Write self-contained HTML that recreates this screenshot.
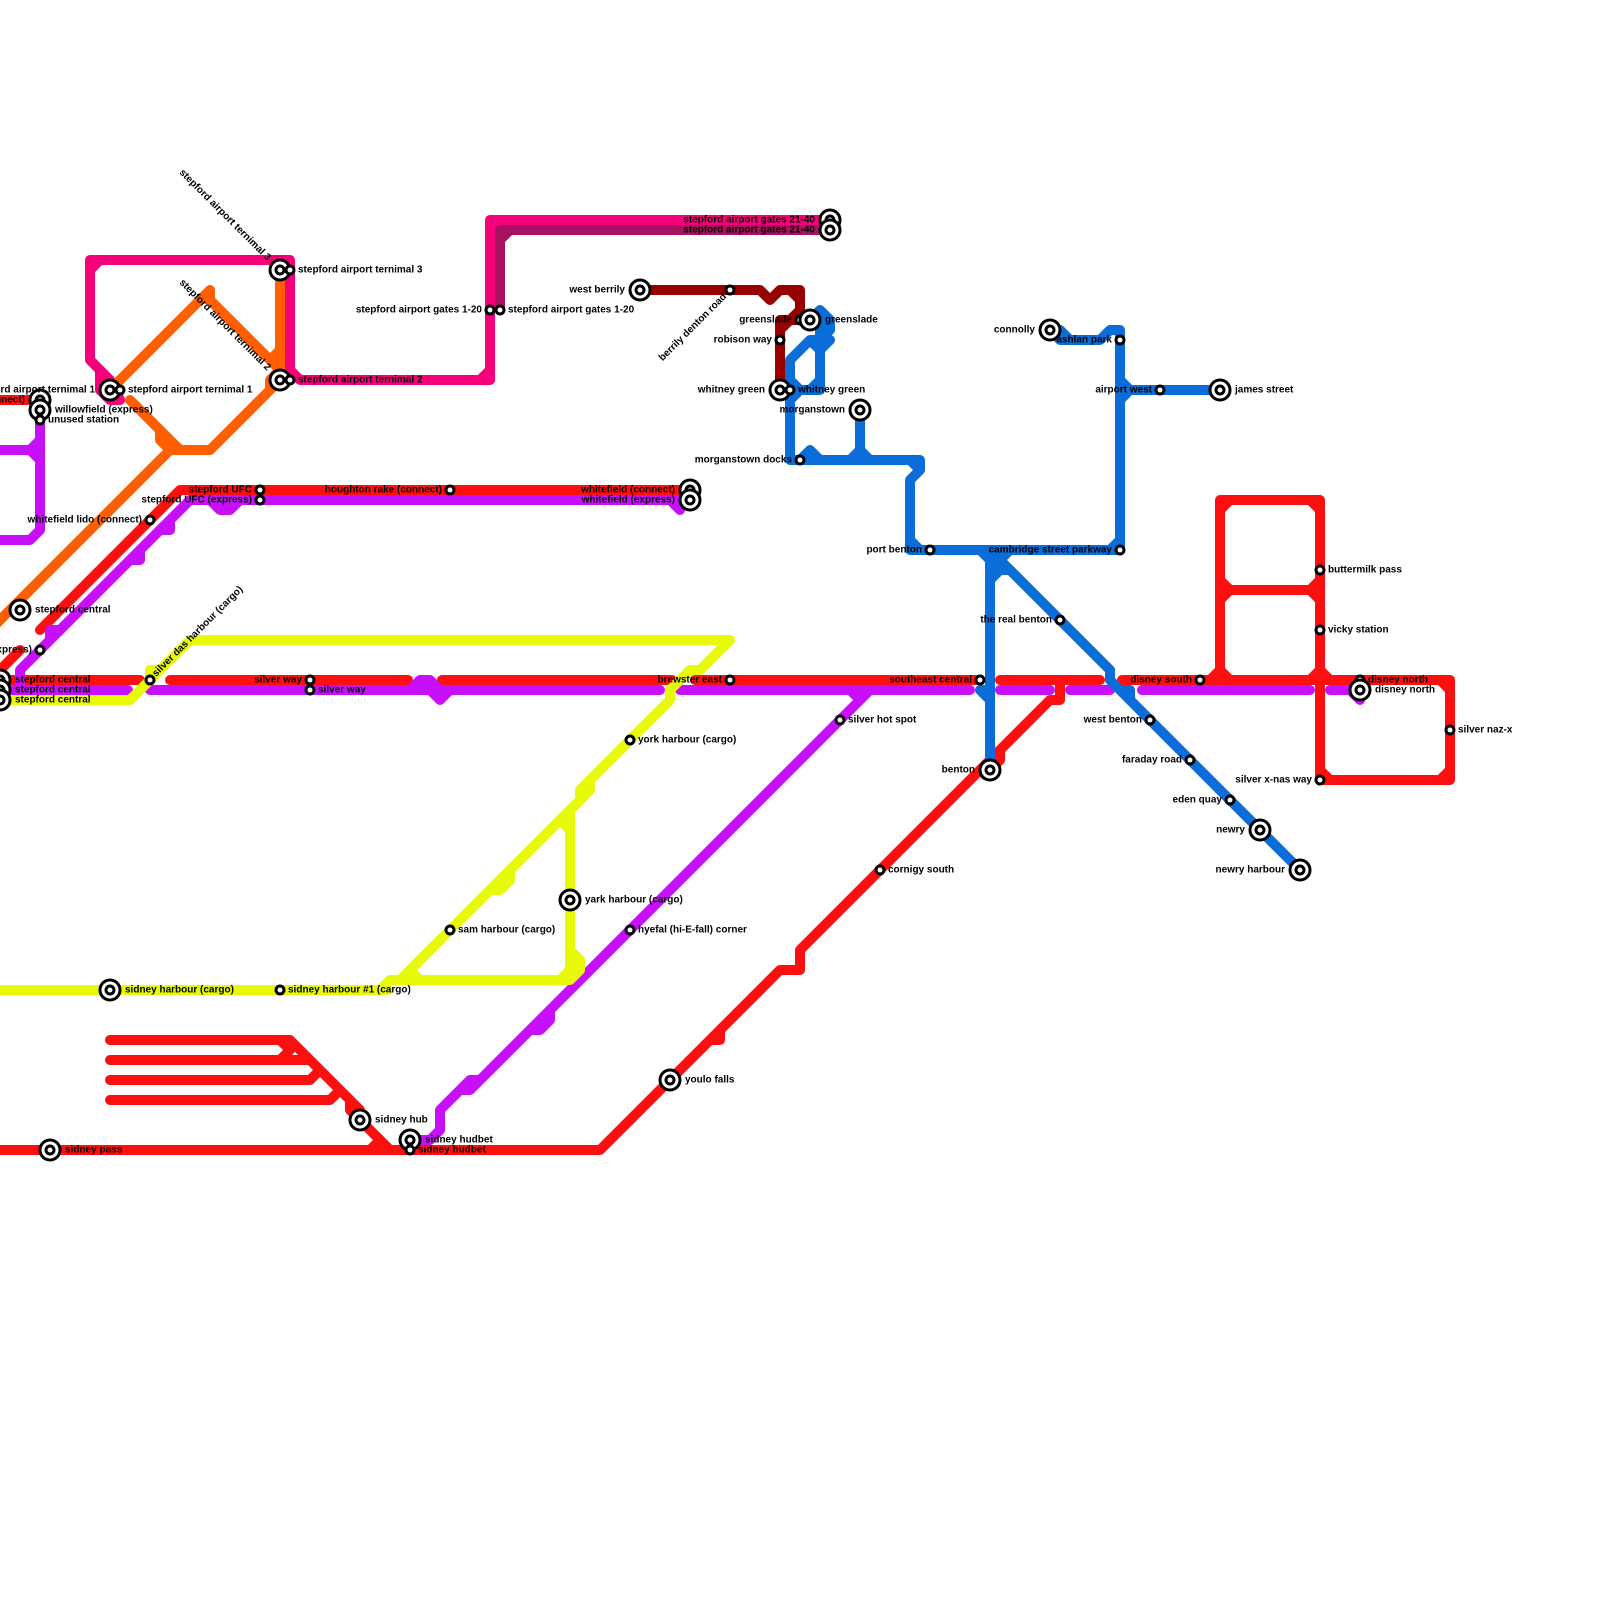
<!DOCTYPE html>
<html><head><meta charset="utf-8"><style>
html,body{margin:0;padding:0;background:#fff}
svg{display:block}
path{fill:none;stroke-width:10;stroke-linecap:round;stroke-linejoin:round}
text{font-family:"Liberation Sans",sans-serif;font-size:10px;font-weight:bold;fill:#000}
.e{text-anchor:end}
.s{fill:#fff;stroke:#000;stroke-width:3}
</style></head><body>
<svg width="1600" height="1600" viewBox="0 0 1600 1600" xmlns="http://www.w3.org/2000/svg">
<rect width="1600" height="1600" fill="#fff"/>
<!-- red -->
<path stroke="#fc0f0f" d="M-5 400L40 400 M40 630L180 490L690 490 M-10 680L20 650 M0 680L140 680 M170 680L408 680 M442 680L672 680 M695 680L980 680 M1000 680L1100 680 M1060 680L1060 700L1050 700L800 950L800 970L780 970L600 1150L-5 1150 M710 1040L720 1040L720 1030 M1000 750L1000 760L985 775 M1122 680L1450 680L1450 780L1320 780L1320 500L1220 500L1220 680 M1210 680L1220 670 M1220 590L1320 590 M1220 510L1230 500 M1310 500L1320 510 M1220 580L1230 590L1220 600 M1320 580L1310 590L1320 600 M1220 670L1230 680 M1310 680L1320 670L1330 680 M1320 770L1330 780 M1440 780L1450 770 M1440 680L1450 690 M110 1040L290 1040L360 1110L360 1120L390 1150 M350 1100L350 1110L360 1120 M110 1060L310 1060 M280 1040L290 1050 M280 1060L290 1050 M110 1080L310 1080L320 1070 M110 1100L330 1100L340 1090 M370 1150L380 1140"/>
<!-- purple -->
<path stroke="#c80ffa" d="M40 420L40 530L30 540L-5 540 M-5 450L30 450L40 440 M30 450L40 460 M20 685L20 670L190 500L690 500 M670 500L680 510 M210 500L220 510L230 510L240 500 M160 530L170 530L170 520 M130 560L140 560L140 550 M50 640L50 630L60 630 M-5 690L128 690 M150 690L660 690 M410 690L420 680L430 680L440 690 M430 690L440 700L450 690 M680 690L970 690 M1000 690L1050 690 M1070 690L1110 690 M1142 690L1310 690 M1330 690L1360 690 M1350 690L1360 700 M870 690L480 1080L470 1080L440 1110L440 1130L430 1140L410 1140 M850 690L860 700 M550 1010L550 1020L540 1030L530 1030 M480 1080L470 1090L460 1090"/>
<!-- pink -->
<path stroke="#f5007a" d="M120 400L110 400L100 390L100 370 M90 360L110 380L120 400 M110 380L110 400 M90 360L90 260L290 260L290 370L300 380L490 380L490 220L830 220 M90 270L100 260 M480 380L490 370 M490 230L500 220"/>
<path stroke="#a81060" d="M830 230L500 230L500 310 M500 240L510 230"/>
<!-- orange -->
<path stroke="#ff5f00" d="M-10 630L170 450L210 450L280 380L280 270 M110 390L210 290L210 300L280 370 M130 400L180 450L170 450 M160 430L160 440L170 450 M270 390L270 380L280 370 M280 350L270 360"/>
<!-- dark red -->
<path stroke="#980000" d="M640 290L760 290L770 300L780 290L800 290L800 310L790 320L780 320L780 390 M800 320L780 320 M780 330L790 320 M790 290L800 300"/>
<!-- yellow -->
<path stroke="#e8fa08" d="M730 640L190 640L130 700L-5 700 M160 670L150 670L150 680 M730 640L700 670L690 670L670 690L670 700L590 780L590 790L410 970L400 980 M590 780L580 790L580 800 M510 870L510 880L500 890L490 890 M-5 990L388 990 M380 990L390 980L570 980L580 970L580 960L570 950L570 810 M560 820L570 830 M410 970L420 980 M560 980L570 970 M570 950L570 980 M570 960L580 960 M570 970L580 970"/>
<!-- blue -->
<path stroke="#0b6dd8" d="M790 360L810 340L820 340L830 330L830 320L820 310 M820 310L820 340 M820 330L830 330 M790 360L790 460L920 460L920 470L910 480L910 550L1120 550 M830 340L820 350L820 390L800 390L790 400 M810 340L820 350 M790 380L800 390 M810 390L820 380 M860 410L860 460 M800 460L810 450L820 460 M850 460L860 450L870 460 M910 460L920 470 M910 540L920 550 M1120 550L1120 330L1110 330L1100 340L1070 340L1060 330L1050 330 M1050 330L1060 340L1070 340 M1110 550L1120 540 M1120 380L1130 390L1120 400 M1120 390L1220 390 M990 550L990 770 M980 550L990 560 M1000 560L1010 550 M990 560L1000 560 M990 570L1010 570 M990 580L1000 570 M1000 560L1110 670L1110 680L1300 870 M1110 680L1130 700 M1120 690L1130 690L1130 700 M980 690L990 690 M980 690L990 700 M820 310L810 320"/>
<!-- big nodes -->
<g class="s">
<circle cx="280" cy="270" r="10"/><circle cx="280" cy="270" r="4"/>
<circle cx="280" cy="380" r="10"/><circle cx="280" cy="380" r="4"/>
<circle cx="110" cy="390" r="10"/><circle cx="110" cy="390" r="4"/>
<circle cx="40" cy="400" r="10"/><circle cx="40" cy="400" r="4"/>
<circle cx="40" cy="410" r="10"/><circle cx="40" cy="410" r="4"/>
<circle cx="830" cy="220" r="10"/><circle cx="830" cy="220" r="4"/>
<circle cx="830" cy="230" r="10"/><circle cx="830" cy="230" r="4"/>
<circle cx="640" cy="290" r="10"/><circle cx="640" cy="290" r="4"/>
<circle cx="780" cy="390" r="10"/><circle cx="780" cy="390" r="4"/>
<circle cx="860" cy="410" r="10"/><circle cx="860" cy="410" r="4"/>
<circle cx="1050" cy="330" r="10"/><circle cx="1050" cy="330" r="4"/>
<circle cx="1220" cy="390" r="10"/><circle cx="1220" cy="390" r="4"/>
<circle cx="690" cy="490" r="10"/><circle cx="690" cy="490" r="4"/>
<circle cx="690" cy="500" r="10"/><circle cx="690" cy="500" r="4"/>
<circle cx="20" cy="610" r="10"/><circle cx="20" cy="610" r="4"/>
<circle cx="0" cy="680" r="10"/><circle cx="0" cy="680" r="4"/>
<circle cx="0" cy="690" r="10"/><circle cx="0" cy="690" r="4"/>
<circle cx="0" cy="700" r="10"/><circle cx="0" cy="700" r="4"/>
<circle cx="990" cy="770" r="10"/><circle cx="990" cy="770" r="4"/>
<circle cx="1260" cy="830" r="10"/><circle cx="1260" cy="830" r="4"/>
<circle cx="1300" cy="870" r="10"/><circle cx="1300" cy="870" r="4"/>
<circle cx="570" cy="900" r="10"/><circle cx="570" cy="900" r="4"/>
<circle cx="110" cy="990" r="10"/><circle cx="110" cy="990" r="4"/>
<circle cx="670" cy="1080" r="10"/><circle cx="670" cy="1080" r="4"/>
<circle cx="360" cy="1120" r="10"/><circle cx="360" cy="1120" r="4"/>
<circle cx="410" cy="1140" r="10"/><circle cx="410" cy="1140" r="4"/>
<circle cx="50" cy="1150" r="10"/><circle cx="50" cy="1150" r="4"/>
<!-- small nodes -->
<circle cx="290" cy="270" r="4"/><circle cx="290" cy="380" r="4"/><circle cx="120" cy="390" r="4"/>
<circle cx="40" cy="420" r="4"/><circle cx="490" cy="310" r="4"/><circle cx="500" cy="310" r="4"/>
<circle cx="730" cy="290" r="4"/><circle cx="800" cy="320" r="4"/><circle cx="780" cy="340" r="4"/>
<circle cx="790" cy="390" r="4"/><circle cx="800" cy="460" r="4"/><circle cx="1120" cy="340" r="4"/>
<circle cx="1160" cy="390" r="4"/><circle cx="930" cy="550" r="4"/><circle cx="1120" cy="550" r="4"/>
<circle cx="260" cy="490" r="4"/><circle cx="260" cy="500" r="4"/><circle cx="450" cy="490" r="4"/>
<circle cx="150" cy="520" r="4"/><circle cx="40" cy="650" r="4"/><circle cx="150" cy="680" r="4"/>
<circle cx="310" cy="680" r="4"/><circle cx="310" cy="690" r="4"/><circle cx="730" cy="680" r="4"/>
<circle cx="980" cy="680" r="4"/><circle cx="1060" cy="620" r="4"/><circle cx="1200" cy="680" r="4"/>
<circle cx="1320" cy="570" r="4"/><circle cx="1320" cy="630" r="4"/><circle cx="1360" cy="680" r="4"/>
<circle cx="1450" cy="730" r="4"/><circle cx="1320" cy="780" r="4"/><circle cx="1150" cy="720" r="4"/>
<circle cx="1190" cy="760" r="4"/><circle cx="1230" cy="800" r="4"/><circle cx="840" cy="720" r="4"/>
<circle cx="630" cy="740" r="4"/><circle cx="880" cy="870" r="4"/><circle cx="450" cy="930" r="4"/>
<circle cx="630" cy="930" r="4"/><circle cx="280" cy="990" r="4"/><circle cx="410" cy="1150" r="4"/>
<!-- big nodes drawn over their small twins -->
<circle cx="810" cy="320" r="10"/><circle cx="810" cy="320" r="4"/>
<circle cx="1360" cy="690" r="10"/><circle cx="1360" cy="690" r="4"/>
</g>
<!-- labels -->
<text x="298" y="272.500">stepford airport ternimal 3</text>
<text x="298" y="382.500">stepford airport ternimal 2</text>
<text x="128" y="392.500">stepford airport ternimal 1</text>
<text class="e" x="95" y="392.500">stepford airport ternimal 1</text>
<text class="e" x="25" y="402.500">willowfield (connect)</text>
<text x="55" y="412.500">willowfield (express)</text>
<text x="48" y="422.500">unused station</text>
<text class="e" transform="translate(267,261) rotate(45)" x="0" y="0">stepford airport ternimal 3</text>
<text class="e" transform="translate(267,371) rotate(45)" x="0" y="0">stepford airport ternimal 2</text>
<text class="e" x="482" y="312.500">stepford airport gates 1-20</text>
<text x="508" y="312.500">stepford airport gates 1-20</text>
<text class="e" x="815" y="222.500">stepford airport gates 21-40</text>
<text class="e" x="815" y="232.500">stepford airport gates 21-40</text>
<text class="e" x="625" y="292.500">west berrily</text>
<text class="e" transform="translate(727,297) rotate(-45)" x="0" y="0">berrily denton road</text>
<text class="e" x="792" y="322.500">greenslade</text>
<text x="825" y="322.500">greenslade</text>
<text class="e" x="772" y="342.500">robison way</text>
<text class="e" x="765" y="392.500">whitney green</text>
<text x="798" y="392.500">whitney green</text>
<text class="e" x="845" y="412.500">morganstown</text>
<text class="e" x="792" y="462.500">morganstown docks</text>
<text class="e" x="1035" y="332.500">connolly</text>
<text class="e" x="1112" y="342.500">ashlan park</text>
<text class="e" x="1152" y="392.500">airport west</text>
<text x="1235" y="392.500">james street</text>
<text class="e" x="922" y="552.500">port benton</text>
<text class="e" x="1112" y="552.500">cambridge street parkway</text>
<text class="e" x="252" y="492.500">stepford UFC</text>
<text class="e" x="252" y="502.500">stepford UFC (express)</text>
<text class="e" x="442" y="492.500">houghton rake (connect)</text>
<text class="e" x="675" y="492.500">whitefield (connect)</text>
<text class="e" x="675" y="502.500">whitefield (express)</text>
<text class="e" x="142" y="522.500">whitefield lido (connect)</text>
<text x="35" y="612.500">stepford central</text>
<text class="e" x="32" y="652.500">whitefield lido (express)</text>
<text x="15" y="682.500">stepford central</text>
<text x="15" y="692.500">stepford central</text>
<text x="15" y="702.500">stepford central</text>
<text transform="translate(156,677) rotate(-45)" x="0" y="0">silver das harbour (cargo)</text>
<text class="e" x="302" y="682.500">silver way</text>
<text x="318" y="692.500">silver way</text>
<text class="e" x="722" y="682.500">brewster east</text>
<text class="e" x="972" y="682.500">southeast central</text>
<text class="e" x="1052" y="622.500">the real benton</text>
<text class="e" x="1192" y="682.500">disney south</text>
<text x="1328" y="572.500">buttermilk pass</text>
<text x="1328" y="632.500">vicky station</text>
<text x="1368" y="682.500">disney north</text>
<text x="1375" y="692.500">disney north</text>
<text x="1458" y="732.500">silver naz-x</text>
<text class="e" x="1312" y="782.500">silver x-nas way</text>
<text class="e" x="1142" y="722.500">west benton</text>
<text class="e" x="1182" y="762.500">faraday road</text>
<text class="e" x="1222" y="802.500">eden quay</text>
<text class="e" x="1245" y="832.500">newry</text>
<text class="e" x="1285" y="872.500">newry harbour</text>
<text class="e" x="975" y="772.500">benton</text>
<text x="848" y="722.500">silver hot spot</text>
<text x="638" y="742.500">york harbour (cargo)</text>
<text x="888" y="872.500">cornigy south</text>
<text x="585" y="902.500">yark harbour (cargo)</text>
<text x="458" y="932.500">sam harbour (cargo)</text>
<text x="638" y="932.500">hyefal (hi-E-fall) corner</text>
<text x="125" y="992.500">sidney harbour (cargo)</text>
<text x="288" y="992.500">sidney harbour #1 (cargo)</text>
<text x="685" y="1082.500">youlo falls</text>
<text x="375" y="1122.500">sidney hub</text>
<text x="425" y="1142.500">sidney hudbet</text>
<text x="418" y="1152.500">sidney hudbet</text>
<text x="65" y="1152.500">sidney pass</text>
</svg>
</body></html>
